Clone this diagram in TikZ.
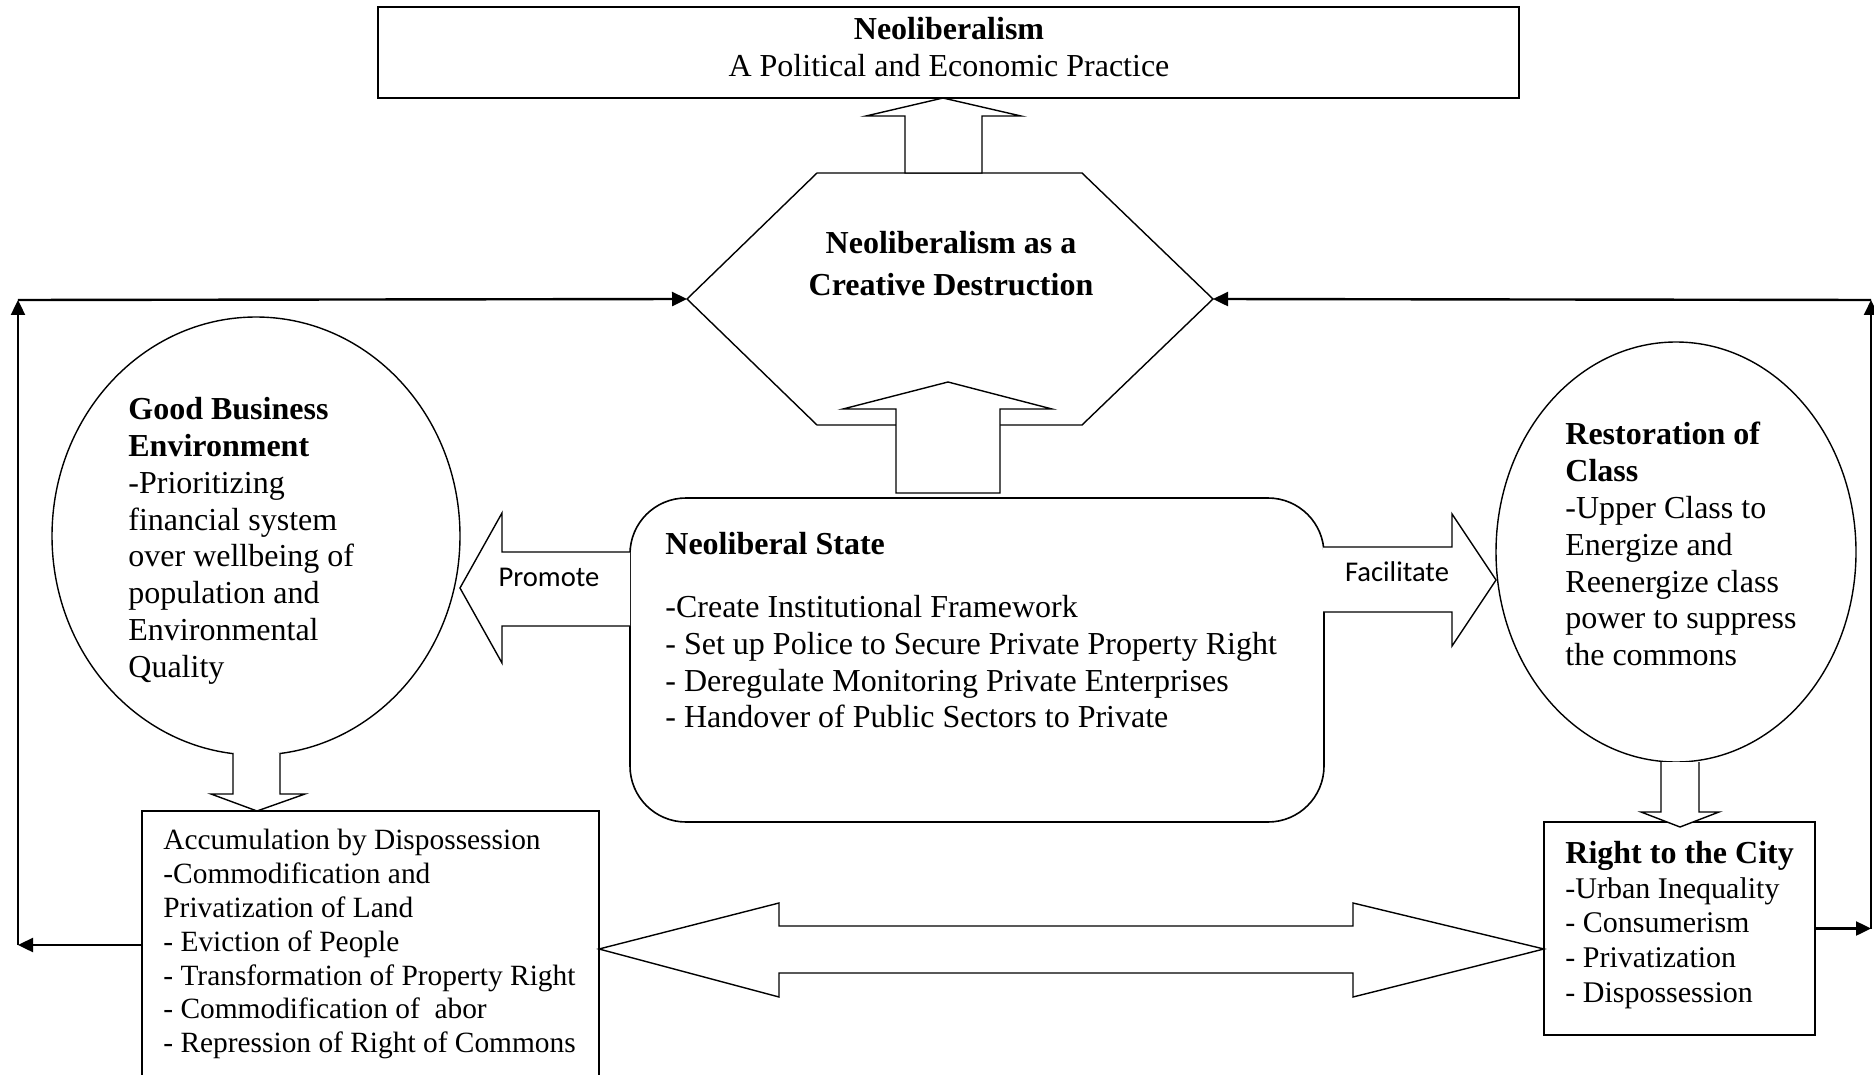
\documentclass[tikz,border=0pt]{standalone}
\usepackage{fontspec}
\setmainfont{Liberation Serif}
\newfontfamily\calibri{Carlito}
\usetikzlibrary{shapes.geometric,arrows.meta}

\tikzset{
  box/.style={draw, line width=0.8pt, inner sep=0pt},
  bubble/.style={draw, ellipse, line width=0.7pt, inner sep=0pt},
  txt/.style={align=left, inner sep=0pt, anchor=north west, font=\fontsize{16}{18.4}\selectfont},
  fat/.style={draw, line width=0.7pt, fill=white, line join=miter},
  verb/.style={inner sep=0pt, font=\calibri\fontsize{14.3}{17}\selectfont},
  feed/.style={line width=1.2pt, -{Triangle[length=7.5pt,width=7pt]}},
}

\begin{document}
\begin{tikzpicture}[x=0.5pt, y=-0.5pt]
\useasboundingbox (0,0) rectangle (1874,1075);
\clip (0,0) rectangle (1874,1075);

% top box
\node[box, minimum width=570.5pt, minimum height=45.5pt] (neo) at (948.5,52.5) {};
\node[align=center, inner sep=0pt, font=\fontsize{16}{18.5}\selectfont] (neotxt) at (949,47)
  {\textbf{Neoliberalism}\\A Political and Economic Practice};

% hexagon
\draw[line width=0.7pt] (687,299) coordinate (hexW) -- (817,173) -- (1082,173)
  -- (1213,299) coordinate (hexE) -- (1082,425) -- (817,425) -- cycle;
\node[align=center, inner sep=0pt, font=\bfseries\fontsize{16}{18.4}\selectfont] (hex) at (951,263.5)
  {Neoliberalism as a\\[3pt]Creative Destruction};

% ellipses
\node[bubble, minimum width=204pt, minimum height=219pt] (gbe) at (256,536) {};
\node[txt] (gbetxt) at (128,397)
  {\textbf{Good Business}\\\textbf{Environment}\\-Prioritizing\\financial system\\over wellbeing of\\population and\\Environmental\\Quality};
\node[bubble, minimum width=180pt, minimum height=210pt] (roc) at (1676,552) {};
\node[txt] (roctxt) at (1565,422)
  {\textbf{Restoration of}\\\textbf{Class}\\-Upper Class to\\Energize and\\Reenergize class\\power to suppress\\the commons};

% neoliberal state
\node[box, rounded corners=28pt, minimum width=347pt, minimum height=162pt] (state) at (977,660) {};
\node[txt] (statetxt) at (665,532)
  {\textbf{Neoliberal State}\\[13pt]-Create Institutional Framework\\- Set up Police to Secure Private Property Right\\- Deregulate Monitoring Private Enterprises\\- Handover of Public Sectors to Private};

% bottom boxes
\node[box, minimum width=228.5pt, minimum height=139.5pt] (acc) at (370.5,950.5) {};
\node[txt, font=\fontsize{14.7}{16.9}\selectfont] (acctxt) at (163,829)
  {Accumulation by Dispossession\\-Commodification and\\Privatization of Land\\- Eviction of People\\- Transformation of Property Right\\- Commodification of\ \ abor\\- Repression of Right of Commons};
\node[box, minimum width=135.5pt, minimum height=106.5pt] (city) at (1679.5,928.5) {};
\node[txt, font=\fontsize{15}{17.3}\selectfont] (citytxt) at (1565,841)
  {{\bfseries\fontsize{16}{17.3}\selectfont Right to the City}\\-Urban Inequality\\- Consumerism\\- Privatization\\- Dispossession};

% block arrows
\draw[fat] (905,173) -- (905,116) -- (866,116) -- (943,98) -- (1021,116) -- (982,116) -- (982,173) -- cycle;
\draw[fat] (896,493) -- (896,409) -- (843,409) -- (948,382) -- (1052,409) -- (1000,409) -- (1000,493) -- cycle;
\draw[fat] (630,552) -- (502,552) -- (502,513) -- (460,588) -- (502,663) -- (502,626) -- (630,626);
\node[verb] (promote) at (549,577) {Promote};
\draw[fat] (1323,547) -- (1452,547) -- (1452,514) -- (1496,580) -- (1452,646) -- (1452,612) -- (1323,612);
\node[verb] (facil) at (1397,572) {Facilitate};
\draw[fat] (233,753) -- (233,794) -- (211,794) -- (257,811) -- (305,794) -- (280,794) -- (280,753);
\draw[fat] (1661,762) -- (1661,812) -- (1641,812) -- (1680,827) -- (1719,812) -- (1699,812) -- (1699,762);
\draw[fat] (599,949) -- (779,903) -- (779,926) -- (1353,926) -- (1353,903) -- (1544,949)
  -- (1353,997) -- (1353,973) -- (779,973) -- (779,997) -- cycle;

% feedback lines
\coordinate (bl) at (18,945);
\coordinate (tl) at (18,300);
\coordinate (br) at (1871,928.5);
\coordinate (tr) at (1871,300);
\draw[feed] (acc.west |- bl) -- (bl);
\draw[feed] (bl) -- (tl);
\draw[feed] (tl) -- (hexW);
\draw[feed] (city.east) -- (br);
\draw[feed] (br) -- (tr);
\draw[feed] (tr) -- (hexE);

\end{tikzpicture}
\end{document}
